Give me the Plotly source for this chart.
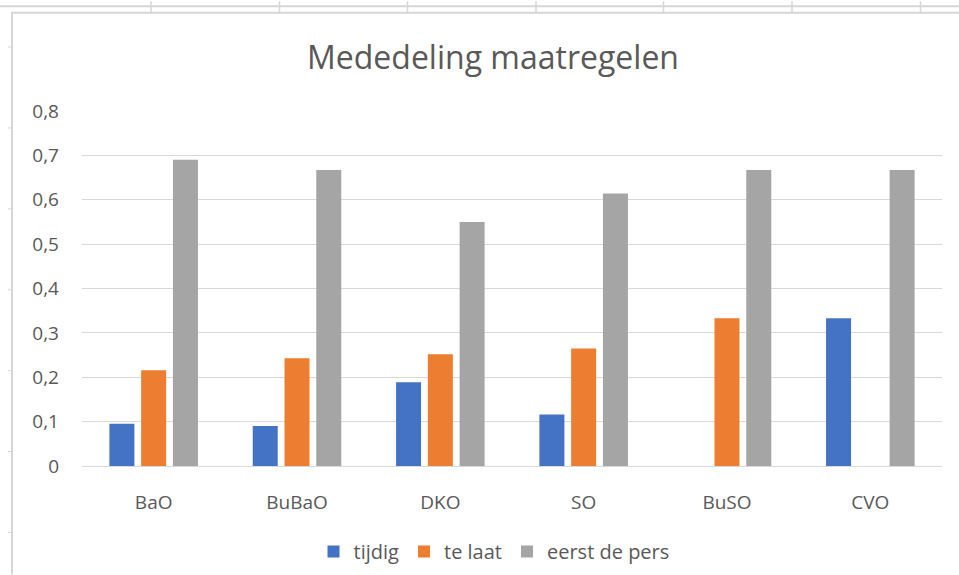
import plotly.graph_objects as go

categories = ["BaO", "BuBaO", "DKO", "SO", "BuSO", "CVO"]
tijdig = [0.095, 0.09, 0.189, 0.116, 0, 0.333]
te_laat = [0.216, 0.243, 0.252, 0.265, 0.333, 0]
eerst_de_pers = [0.69, 0.667, 0.55, 0.614, 0.667, 0.667]
series_names = ["tijdig", "te laat", "eerst de pers"]
series_colors = ["#4472C4", "#ED7D31", "#A5A5A5"]
y_ticks = [0, 0.1, 0.2, 0.3, 0.4, 0.5, 0.6, 0.7, 0.8]
y_tick_labels = ["0", "0,1", "0,2", "0,3", "0,4", "0,5", "0,6", "0,7", "0,8"]
title_text = "Mededeling maatregelen"

FONT = "Open Sans"
TXT = "#595959"
GRID = "#D9D9D9"

W, H = 959, 575
L, R, T, B = 82, 17, 111, 108.5
PW = W - L - R
PH = H - T - B

fig = go.Figure()
for name, vals, col in zip(series_names, [tijdig, te_laat, eerst_de_pers], series_colors):
    fig.add_trace(go.Bar(x=categories, y=vals, name=name, marker=dict(color=col, line=dict(width=0))))

def px_x(p):
    return (p - L) / PW

def px_y(p):
    return 1 - (p - T) / PH

shapes = []
sheet = "#D6D6D6"
shapes.append(dict(type="line", xref="paper", yref="paper", x0=px_x(0), x1=px_x(W), y0=px_y(6), y1=px_y(6), line=dict(color=sheet, width=2)))
shapes.append(dict(type="line", xref="paper", yref="paper", x0=px_x(11), x1=px_x(W), y0=px_y(12.5), y1=px_y(12.5), line=dict(color=sheet, width=2)))
shapes.append(dict(type="line", xref="paper", yref="paper", x0=px_x(12), x1=px_x(12), y0=px_y(12), y1=px_y(H), line=dict(color=sheet, width=2)))
for vx in [151, 279.5, 407.5, 536, 663.5, 792, 920.5]:
    shapes.append(dict(type="line", xref="paper", yref="paper", x0=px_x(vx), x1=px_x(vx), y0=px_y(1), y1=px_y(12), line=dict(color=sheet, width=1.5)))
for vy in [47, 128, 209, 290, 371, 452, 533]:
    shapes.append(dict(type="line", xref="paper", yref="paper", x0=px_x(8), x1=px_x(11), y0=px_y(vy), y1=px_y(vy), line=dict(color=sheet, width=1)))

fig.update_layout(
    width=W, height=H,
    margin=dict(l=L, r=R, t=T, b=B, autoexpand=False),
    paper_bgcolor="white", plot_bgcolor="white",
    barmode="group", bargap=0.335, bargroupgap=0.213,
    font=dict(family=FONT, color=TXT, size=17),
    title=dict(text=title_text, x=px_x(493), xref="paper", xanchor="center",
               y=1 - 58 / H, yref="container", yanchor="middle",
               font=dict(family=FONT, size=32, color=TXT)),
    xaxis=dict(showgrid=False, showline=True, linecolor=GRID, linewidth=1.3,
               ticks="", tickfont=dict(size=19, color=TXT), ticklabelstandoff=19),
    yaxis=dict(range=[0, 0.8], tickvals=y_ticks, ticktext=y_tick_labels,
               showgrid=True, gridcolor=GRID, gridwidth=1.3, zeroline=False,
               showline=False, ticks="", ticklabelstandoff=22,
               tickfont=dict(size=19, color=TXT)),
    legend=dict(orientation="h", x=px_x(494), xanchor="center", y=px_y(552), yanchor="middle",
                font=dict(size=20, color=TXT), itemwidth=30, bgcolor="rgba(0,0,0,0)"),
    shapes=shapes,
)

fig.write_html("out.html", config={"displayModeBar": False},
               post_script="document.body.style.margin='0';document.body.style.overflow='hidden';")
